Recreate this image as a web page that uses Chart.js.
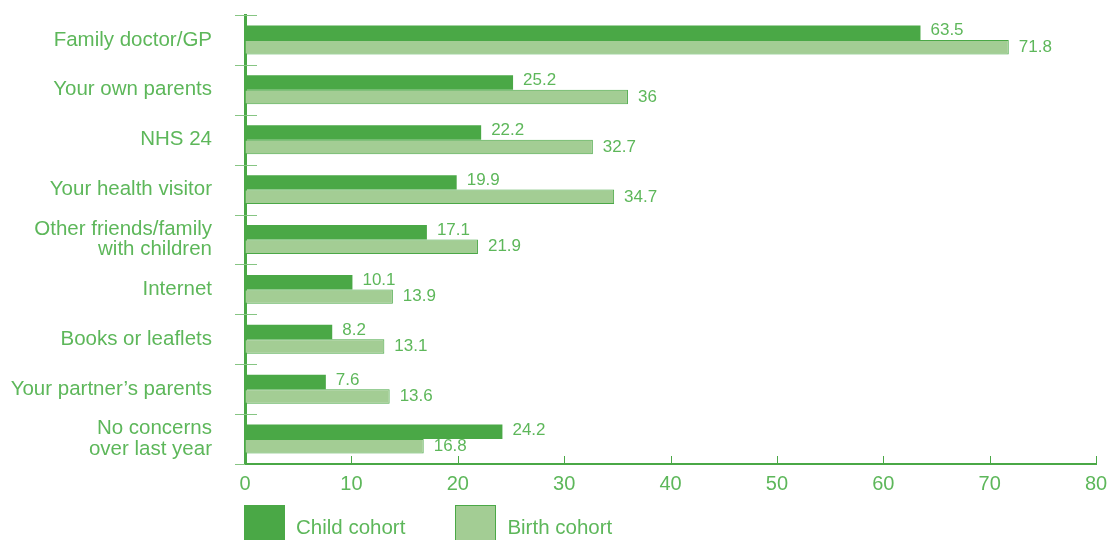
<!DOCTYPE html>
<html>
<head>
<meta charset="utf-8">
<script src="https://cdn.jsdelivr.net/npm/chart.js@4.4.1/dist/chart.umd.min.js"></script>
<style>
  html, body { margin: 0; padding: 0; background: #fff; overflow: hidden; }
  #wrap { position: relative; width: 1118px; height: 540px; }
  #legend { position: absolute; left: 244px; top: 505px; display: flex; font-family: "Liberation Sans", Arial, sans-serif; font-size: 20.5px; color: #5db75a; }
  #legend .item { display: flex; align-items: flex-start; margin-right: 50px; }
  #legend .box { width: 41px; height: 40px; box-sizing: border-box; margin-right: 11px; }
  #legend .text { line-height: 22px; margin-top: 11px; }
</style>
</head>
<body>
<div id="wrap">
  <canvas id="chart" width="1118" height="540"></canvas>
  <div id="legend"></div>
</div>
<script>
const categories = [
  'Family doctor/GP',
  'Your own parents',
  'NHS 24',
  'Your health visitor',
  ['Other friends/family', 'with children'],
  'Internet',
  'Books or leaflets',
  'Your partner\u2019s parents',
  ['No concerns', 'over last year']
];
const childCohort = [63.5, 25.2, 22.2, 19.9, 17.1, 10.1, 8.2, 7.6, 24.2];
const birthCohort = [71.8, 36, 32.7, 34.7, 21.9, 13.9, 13.1, 13.6, 16.8];
const xTicks = [0, 10, 20, 30, 40, 50, 60, 70, 80];

const GREEN = '#4aa846';
const LIGHT = '#a3cd94';
const TICK = '#86c583';
const TEXT = '#5db75a';
const FONT = '"Liberation Sans", Arial, sans-serif';

/**
 * Draws the value labels at the end of each bar
 */
const valueLabels = {
  id: 'valueLabels',
  afterDatasetsDraw(chart) {
    const ctx = chart.ctx;
    ctx.save();
    ctx.font = '17px ' + FONT;
    ctx.fillStyle = TEXT;
    ctx.textAlign = 'left';
    ctx.textBaseline = 'middle';
    chart.data.datasets.forEach((ds, di) => {
      chart.getDatasetMeta(di).data.forEach((bar, i) => {
        const lift = di === 0 ? -2 : 0;
        ctx.fillText(String(ds.data[i]), bar.x + 10, bar.y + lift);
      });
    });
    ctx.restore();
  }
};

/**
 * Tick marks: crossing the y axis between categories, inward on the x axis
 */
const axisTicks = {
  id: 'axisTicks',
  afterDraw(chart) {
    const ctx = chart.ctx;
    const area = chart.chartArea;
    const x = chart.scales.x;
    ctx.save();
    ctx.lineWidth = 1;
    ctx.strokeStyle = TICK;
    const band = (area.bottom - area.top) / categories.length;
    for (let i = 0; i <= categories.length; i++) {
      const y = Math.round(area.top + i * band) + 0.5;
      ctx.beginPath();
      ctx.moveTo(area.left - 10, y);
      ctx.lineTo(i === categories.length ? area.left : area.left + 12, y);
      ctx.stroke();
    }
    ctx.strokeStyle = GREEN;
    xTicks.forEach(v => {
      const px = Math.round(x.getPixelForValue(v)) + 0.5;
      ctx.beginPath();
      ctx.moveTo(px, area.bottom);
      ctx.lineTo(px, area.bottom - 8);
      ctx.stroke();
    });
    ctx.restore();
  }
};

const chart = new Chart(document.getElementById('chart'), {
  type: 'bar',
  data: {
    labels: categories,
    datasets: [{
      label: 'Child cohort',
      data: childCohort,
      backgroundColor: GREEN,
      borderWidth: 0
    }, {
      label: 'Birth cohort',
      data: birthCohort,
      backgroundColor: LIGHT,
      borderColor: GREEN,
      borderWidth: 1,
      borderSkipped: 'left'
    }]
  },
  options: {
    indexAxis: 'y',
    responsive: false,
    animation: false,
    categoryPercentage: 0.58,
    barPercentage: 1,
    layout: { padding: { top: 15, right: 22, left: 0, bottom: 0 } },
    plugins: {
      legend: { display: false },
      tooltip: { enabled: false }
    },
    scales: {
      x: {
        min: 0,
        max: 80,
        afterFit: s => { s.height = 76; },
        afterBuildTicks: s => { s.ticks = xTicks.map(v => ({ value: v })); },
        grid: { display: true, drawOnChartArea: false, drawTicks: false },
        border: { display: true, color: GREEN, width: 2 },
        ticks: { color: TEXT, padding: 8, font: { family: FONT, size: 20 } }
      },
      y: {
        afterFit: s => {
          s.width = 245;
          s.paddingTop = 0;
          s.paddingBottom = 0;
        },
        grid: { display: true, drawOnChartArea: false, drawTicks: false },
        border: { display: true, color: GREEN, width: 3 },
        ticks: { color: TEXT, padding: 33, font: { family: FONT, size: 20.5, lineHeight: 1.0 } }
      }
    }
  },
  plugins: [valueLabels, axisTicks]
});

// html legend built from the chart's datasets
const legendEl = document.getElementById('legend');
chart.data.datasets.forEach(ds => {
  const item = document.createElement('div');
  item.className = 'item';
  const box = document.createElement('div');
  box.className = 'box';
  box.style.background = ds.backgroundColor;
  if (ds.borderWidth) box.style.border = ds.borderWidth + 'px solid ' + ds.borderColor;
  const text = document.createElement('div');
  text.className = 'text';
  text.textContent = ds.label;
  item.appendChild(box);
  item.appendChild(text);
  legendEl.appendChild(item);
});
</script>
</body>
</html>
